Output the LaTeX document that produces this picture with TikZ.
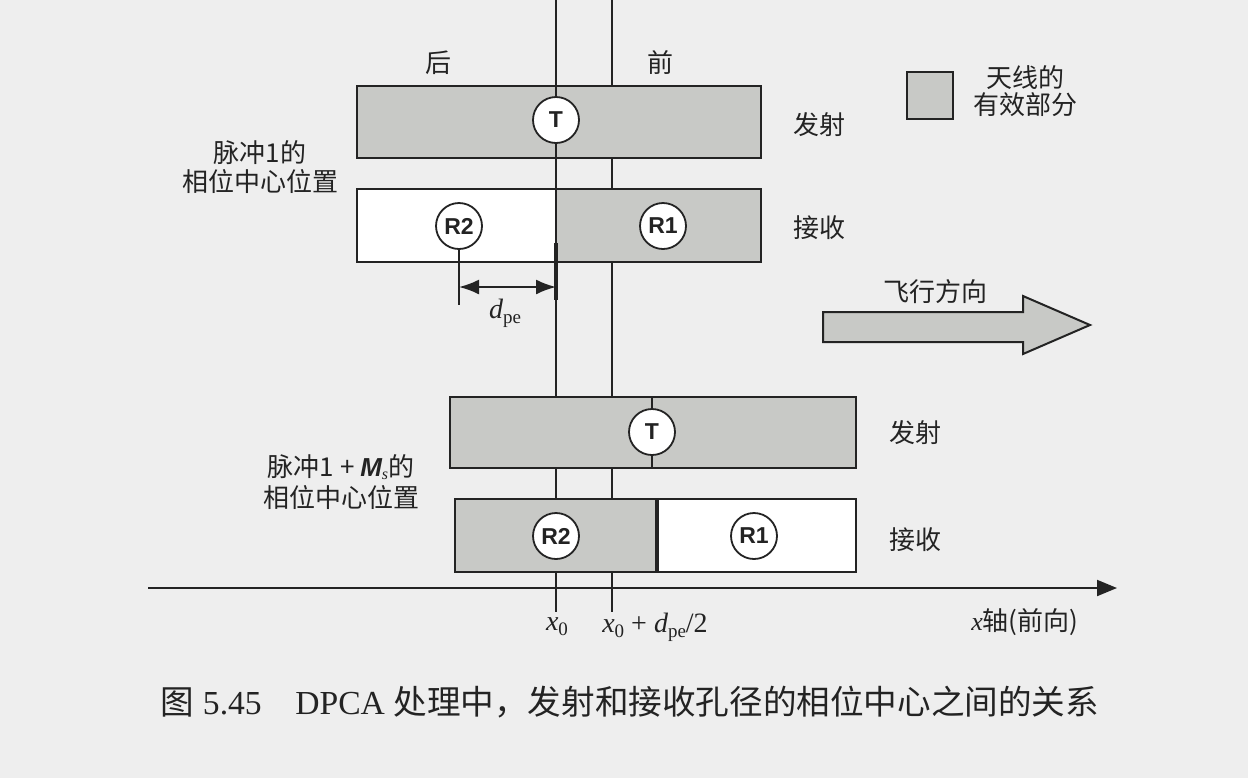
\documentclass[tikz,border=0pt]{standalone}
\usepackage{fontspec}
\setmainfont{Liberation Serif}
\newfontfamily\cjk{Noto Sans CJK SC}
\newfontfamily\hsans{Liberation Sans}
\usetikzlibrary{arrows.meta}
\definecolor{bg}{RGB}{238,238,238}
\definecolor{boxgray}{RGB}{200,201,198}
\definecolor{ink}{RGB}{35,35,35}
\newcommand{\sbs}[1]{\raisebox{-0.4ex}{\fontsize{9.5}{9.5}\selectfont #1}}
\newcommand{\sbss}[1]{\raisebox{-0.25ex}{\fontsize{8}{8}\selectfont #1}}
\begin{document}
\begin{tikzpicture}[x=0.5pt,y=-0.5pt,
  box/.style={draw=ink, line width=1.2pt},
  circ/.style={circle, draw=ink, fill=white, line width=0.9pt, minimum size=23pt, inner sep=0pt, font=\hsans\bfseries\fontsize{11.5}{12}\selectfont, text=ink},
  lab/.style={font=\cjk\fontsize{13}{14.5}\selectfont, text=ink, align=center, inner sep=0pt},
  mlab/.style={font=\fontsize{14}{16}\selectfont, text=ink, inner sep=0pt},
  vline/.style={draw=ink, line width=0.9pt},
  dimarrow/.style={draw=ink, line width=1pt, {Latex[length=10pt,width=7.5pt]}-{Latex[length=10pt,width=7.5pt]}},
]
\useasboundingbox (0,0) rectangle (1248,778);
\fill[bg] (0,0) rectangle (1248,778);

% reference lines
\coordinate (xa0) at (556,0);   \coordinate (xa1) at (556,612);
\coordinate (xb0) at (612,0);   \coordinate (xb1) at (612,612);
\draw[vline] (xa0) -- (xa1);
\draw[vline] (xb0) -- (xb1);

% ---------- pulse 1 ----------
\filldraw[box, fill=boxgray] (357,86) rectangle (761,158);
\draw[vline] (556,86) -- (556,158);
\node[circ] (T1) at (556,120) {T};

\fill[white] (357,189) rectangle (556,262);
\fill[boxgray] (556,189) rectangle (761,262);
\draw[box] (357,189) rectangle (761,262);
\draw[vline] (556,189) -- (556,262);
\node[circ] (R21) at (459,226) {R2};
\node[circ] (R11) at (663,226) {R1};

\coordinate (stemR2) at (459,305);
\draw[draw=ink, line width=1.1pt] (R21.south) -- (stemR2);
\coordinate (extA) at (556,243);
\coordinate (extB) at (556,300);
\draw[draw=ink, line width=1.8pt] (extA) -- (extB);
\coordinate (dimL) at (459,287);
\coordinate (dimR) at (556,287);
\draw[dimarrow] (dimL) -- (dimR);
\node[mlab] (dpe) at (505,313) {\itshape d\upshape\sbs{pe}};

\node[lab] (hou) at (438,63) {后};
\node[lab] (qian) at (660,63) {前};
\node[lab] (fs1) at (819,125) {发射};
\node[lab] (js1) at (819,228) {接收};
\node[lab] (p1) at (260,167) {脉冲1的\\相位中心位置};

% legend
\filldraw[draw=ink, line width=1.2pt, fill=boxgray] (907,72) rectangle (953,119);
\node[lab, font=\cjk\fontsize{13}{13.5}\selectfont] (leg) at (1025,91) {天线的\\有效部分};

% flight direction arrow
\filldraw[draw=ink, line width=1pt, fill=boxgray]
  (823,312) -- (1023,312) -- (1023,296) -- (1090,325) -- (1023,354) -- (1023,342) -- (823,342) -- cycle;
\node[lab] (fly) at (935,292) {飞行方向};

% ---------- pulse 1 + Ms ----------
\filldraw[box, fill=boxgray] (450,397) rectangle (856,468);
\draw[vline] (652,397) -- (652,468);
\node[circ] (T2) at (652,432) {T};

\fill[boxgray] (455,499) rectangle (657,572);
\fill[white] (657,499) rectangle (856,572);
\draw[box] (455,499) rectangle (856,572);
\draw[draw=ink, line width=1.8pt] (657,499) -- (657,572);
\node[circ] (R22) at (556,536) {R2};
\node[circ] (R12) at (754,536) {R1};

\node[lab] (fs2) at (915,433) {发射};
\node[lab] (js2) at (915,540) {接收};
\node[lab, font=\cjk\fontsize{13}{15.5}\selectfont] (p2) at (341,482) {脉冲1 + {\hsans\bfseries\itshape M}\sbss{\normalfont\itshape s}的\\相位中心位置};

% x axis
\coordinate (ax0) at (148,588);
\coordinate (ax1) at (1117,588);
\draw[draw=ink, line width=1pt, -{Triangle[length=10pt,width=8pt]}] (ax0) -- (ax1);
\node[mlab] (lx0) at (557,627) {\itshape x\upshape\sbs{0}};
\node[mlab] (lx1) at (655,627) {\itshape x\upshape\sbs{0} + \itshape d\upshape\sbs{pe}/2};
\node[mlab, font=\fontsize{13}{15}\selectfont] (lax) at (1025,622) {\itshape x\upshape{\cjk 轴(前向)}};

% caption
\node[mlab, font=\fontsize{16.8}{18}\selectfont] (cap) at (630,702) {{\cjk 图} 5.45\hspace{1em}DPCA {\cjk 处理中，发射和接收孔径的相位中心之间的关系}};
\end{tikzpicture}
\end{document}
